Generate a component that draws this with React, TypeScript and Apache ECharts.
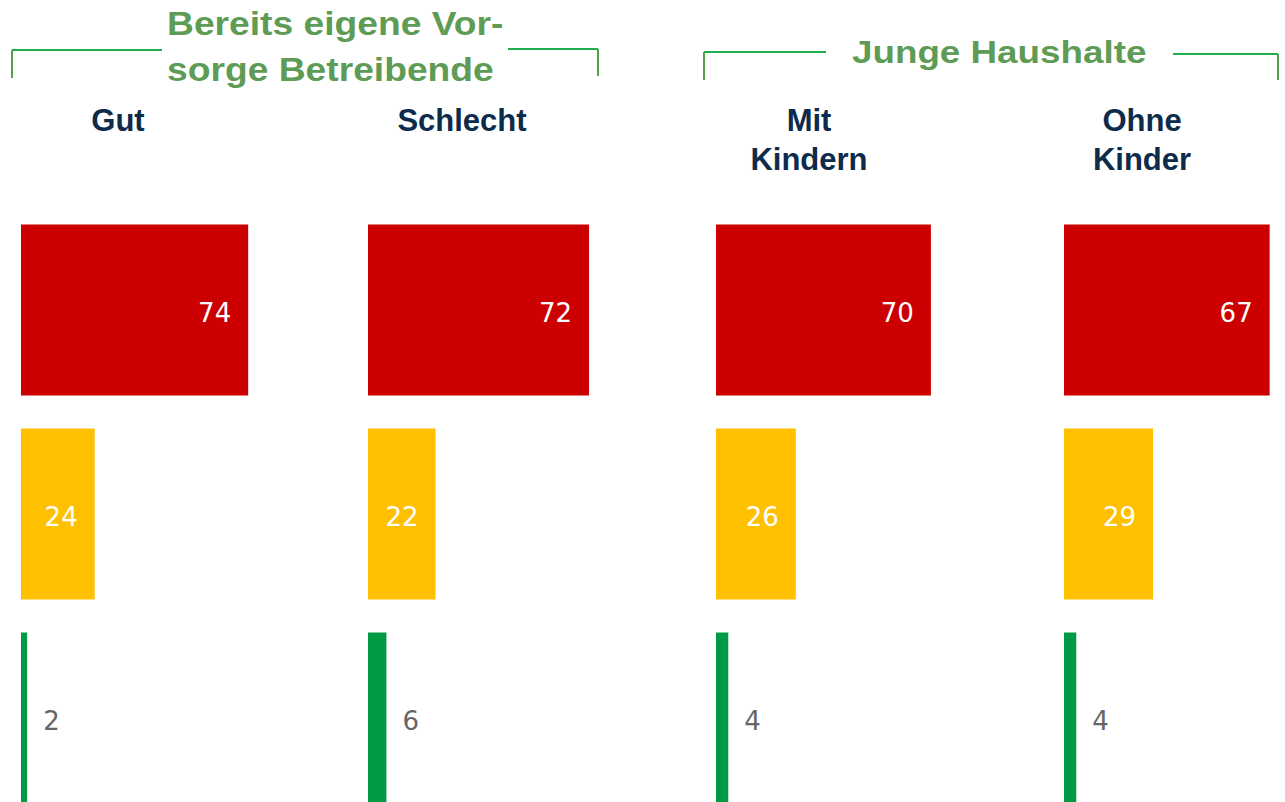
import React, { useEffect, useRef } from "react";
import * as echarts from "echarts";

// ---- data ----
const panels = ["Gut", "Schlecht", "Mit\nKindern", "Ohne\nKinder"];
const segments = ["rot", "gelb", "grün"];
const redValues = [74, 72, 70, 67];
const yellowValues = [24, 22, 26, 29];
const greenValues = [2, 6, 4, 4];
const groupTitles = ["Bereits eigene Vor-\nsorge Betreibende", "Junge Haushalte"];

// ---- styles / layout ----
const RED = "#CC0000";
const YELLOW = "#FFC000";
const GREEN = "#009A44";
const NAVY = "#0D2B4B";
const TITLE_GREEN = "#5E9B54";
const LINE_GREEN = "#1DAF4E";
const LINE_GREEN_DARK = "#52A048";
const panelLeft = [21, 368, 716, 1064];
const headerX = [118, 462, 809, 1142];
const GRID_TOP = 208;
const GRID_HEIGHT = 612;
const GRID_WIDTH = 307;
const AXIS_MAX = 100;

export default function App() {
  const ref = useRef<HTMLDivElement>(null);

  useEffect(() => {
    if (!ref.current) return;
    const chart = echarts.init(ref.current, undefined, { renderer: "svg" });

    const labelFont = { fontFamily: "DejaVu Sans", fontSize: 26, offset: [0, 2.5] };

    const grids = panels.map((_, i) => ({
      left: panelLeft[i],
      top: GRID_TOP,
      width: GRID_WIDTH,
      height: GRID_HEIGHT,
      containLabel: false,
    }));
    const xAxes = panels.map((_, i) => ({
      type: "value",
      gridIndex: i,
      min: 0,
      max: AXIS_MAX,
      show: false,
    }));
    const yAxes = panels.map((_, i) => ({
      type: "category",
      gridIndex: i,
      data: segments,
      inverse: true,
      show: false,
    }));
    const series = panels.map((p, i) => ({
      type: "bar",
      name: p,
      xAxisIndex: i,
      yAxisIndex: i,
      barWidth: 171,
      data: [
        {
          value: redValues[i],
          itemStyle: { color: RED },
          label: { show: true, position: "insideRight", distance: 17, color: "#ffffff", ...labelFont },
        },
        {
          value: yellowValues[i],
          itemStyle: { color: YELLOW },
          label: { show: true, position: "insideRight", distance: 17, color: "#ffffff", ...labelFont },
        },
        {
          value: greenValues[i],
          itemStyle: { color: GREEN },
          label: { show: true, position: "right", distance: 16, color: "#666666", ...labelFont },
        },
      ],
    }));

    const headerFont = 'bold 31px "Liberation Sans", Arial, sans-serif';
    const titleFont = 'bold 34px "Liberation Sans", Arial, sans-serif';

    const graphic: any[] = [];
    panels.forEach((p, i) => {
      p.split("\n").forEach((line, j) => {
        graphic.push({
          type: "text",
          x: headerX[i],
          y: 120 + j * 39,
          style: { text: line, font: headerFont, fill: NAVY, align: "center", verticalAlign: "middle" },
        });
      });
    });

    groupTitles[0].split("\n").forEach((line, j) => {
      graphic.push({
        type: "text",
        x: 167,
        y: 24 + j * 46,
        scaleX: 1.095,
        style: { text: line, font: titleFont, fill: TITLE_GREEN, align: "left", verticalAlign: "middle" },
      });
    });
    graphic.push({
      type: "text",
      x: 852,
      y: 52,
      scaleX: 1.15,
      style: { text: groupTitles[1], font: 'bold 32px "Liberation Sans", Arial, sans-serif', fill: TITLE_GREEN, align: "left", verticalAlign: "middle" },
    });

    const hLine = (x1: number, y1: number, x2: number, y2: number) => ({
      type: "line",
      shape: { x1, y1, x2, y2 },
      style: { stroke: LINE_GREEN, lineWidth: 2 },
    });
    const vLine = (x1: number, y1: number, x2: number, y2: number) => ({
      type: "line",
      shape: { x1, y1, x2, y2 },
      style: { stroke: LINE_GREEN_DARK, lineWidth: 2 },
    });
    graphic.push(hLine(12, 50, 162, 50));
    graphic.push(vLine(12, 50, 12, 78));
    graphic.push(hLine(508, 49, 598, 49));
    graphic.push(vLine(598, 49, 598, 76));
    graphic.push(hLine(704, 52, 826, 52));
    graphic.push(vLine(704, 52, 704, 80));
    graphic.push(hLine(1173, 54, 1278, 54));
    graphic.push(vLine(1278, 54, 1278, 80));

    chart.setOption({
      animation: false,
      backgroundColor: "#ffffff",
      grid: grids,
      xAxis: xAxes,
      yAxis: yAxes,
      series,
      graphic,
    } as any);

    return () => chart.dispose();
  }, []);

  return (
    <div
      ref={ref}
      style={{ position: "fixed", left: 0, top: 0, width: 1380, height: 830 }}
    />
  );
}
